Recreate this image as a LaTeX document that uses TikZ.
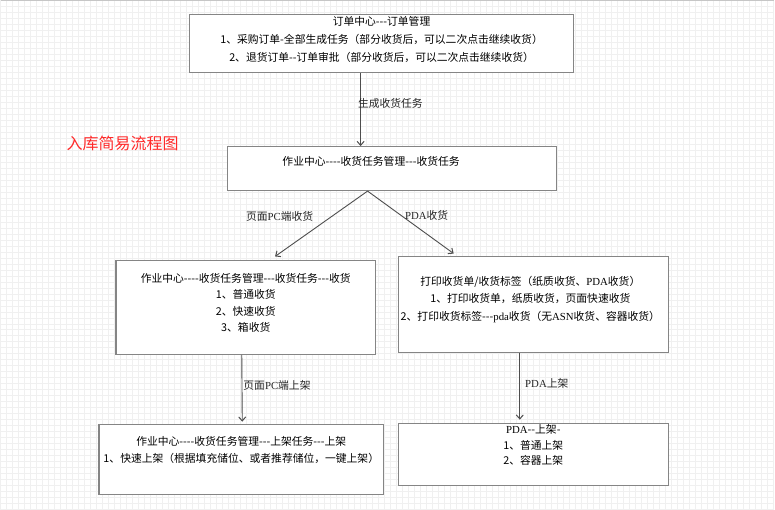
\documentclass[tikz,border=0pt]{standalone}
\usepackage{fontspec}
\newfontfamily\cjk{Noto Sans CJK SC}
\newfontfamily\enfont{Liberation Serif}
\newcommand{\en}[1]{{\enfont #1}}
\usetikzlibrary{positioning,arrows.meta}

\definecolor{boxgray}{HTML}{858585}
\definecolor{linegray}{HTML}{4D4D4D}
\definecolor{titlered}{HTML}{FF2A2A}
\definecolor{gridgray}{HTML}{F0F0F0}

\tikzset{
	flowbox/.style 2 args={draw=boxgray, line width=1.1pt, fill=white, anchor=north west,
		inner sep=0pt, minimum width=#1, minimum height=#2},
	boxtext/.style={align=center, inner sep=0pt, font=\cjk\fontsize{10.8}{#1}\selectfont},
	boxtext/.default=17,
	flow/.style={draw=linegray, line width=0.9pt, -{Straight Barb[length=4pt,width=7pt,line width=1pt]}},
	flowlabel/.style={inner sep=0pt, font=\cjk\fontsize{10.8}{13}\selectfont, text=black!85}
}

\begin{document}
\begin{tikzpicture}[x=1pt, y=-1pt, >=latex]

	%% background grid
	\fill[white] (0,0) rectangle (775,510);
	\draw[step=6pt, gridgray, line width=0.6pt] (0,0) grid (775,510);
	\draw[gray!45, line width=1.2pt] (0,0.6) -- (775,0.6);
	\useasboundingbox (0,0) rectangle (775,510);

	%% title
	\node[anchor=west, inner sep=0pt, text=titlered, font=\cjk\fontsize{16}{18}\selectfont] (title) at (66,143) {入库简易流程图};

	%% boxes
	\node[flowbox={384pt}{58pt}] (order) at (189,14) {};
	\node[boxtext=18, below=2pt of order.north] (ordertxt) {订单中心---订单管理\\
		1、采购订单-全部生成任务（部分收货后，可以二次点击继续收货）\\
		2、退货订单--订单审批（部分收货后，可以二次点击继续收货）};

	\node[flowbox={329pt}{44pt}] (task) at (227,146) {};
	\node[boxtext, below=10pt of task.north, xshift=-21pt] (tasktxt) {作业中心----收货任务管理---收货任务};

	\node[flowbox={260pt}{94pt}] (pcrecv) at (115,260) {};
	\node[boxtext=16.5, below=13pt of pcrecv.north] (pcrecvtxt) {作业中心----收货任务管理---收货任务---收货\\
		1、普通收货\\ 2、快速收货\\ 3、箱收货};

	\node[flowbox={270pt}{96pt}] (pdarecv) at (398,256) {};
	\node[boxtext=17.5, below=20pt of pdarecv.north, xshift=-3pt] (pdarecvtxt) {打印收货单/收货标签（纸质收货、\en{PDA}收货）\\
		1、打印收货单，纸质收货，页面快速收货\\
		2、打印收货标签---\en{pda}收货（无\en{ASN}收货、容器收货）};

	\node[flowbox={285pt}{70pt}] (pcput) at (98,424) {};
	\node[boxtext, below=13pt of pcput.north] (pcputtxt) {作业中心----收货任务管理---上架任务---上架\\
		1、快速上架（根据填充储位、或者推荐储位，一键上架）};

	\node[flowbox={270pt}{62pt}] (pdaput) at (398,423) {};
	\node[boxtext=15.5, below=2pt of pdaput.north] (pdaputtxt) {\en{PDA}--上架-\\ 1、普通上架\\ 2、容器上架};

	%% connectors
	\coordinate (split) at ([xshift=-24.5pt]task.south);

	\draw[flow] ([xshift=-21pt]order.south) -- ([xshift=-21pt]task.north -| order.south)
		node[flowlabel, pos=0.42, right=-3pt] {生成收货任务};
	\draw[flow, shorten >=6pt] (split) -- (pcrecv.north -| 270,0)
		node[flowlabel, pos=0.37, left=18pt] {页面\en{PC}端收货};
	\draw[flow, shorten >=4pt] (split) -- (pdarecv.north -| 457,0)
		node[flowlabel, pos=0.37, right=4pt] {\en{PDA}收货};
	\draw[flow, shorten >=2pt] ([xshift=-4pt]pcrecv.south) -- ([xshift=1pt]pcput.north)
		node[flowlabel, pos=0.44, right=1pt] {页面\en{PC}端上架};
	\draw[flow, shorten >=3pt] (pdarecv.south -| 520,0) -- (pdaput.north -| 520,0)
		node[flowlabel, pos=0.44, right=5pt] {\en{PDA}上架};

\end{tikzpicture}
\end{document}
